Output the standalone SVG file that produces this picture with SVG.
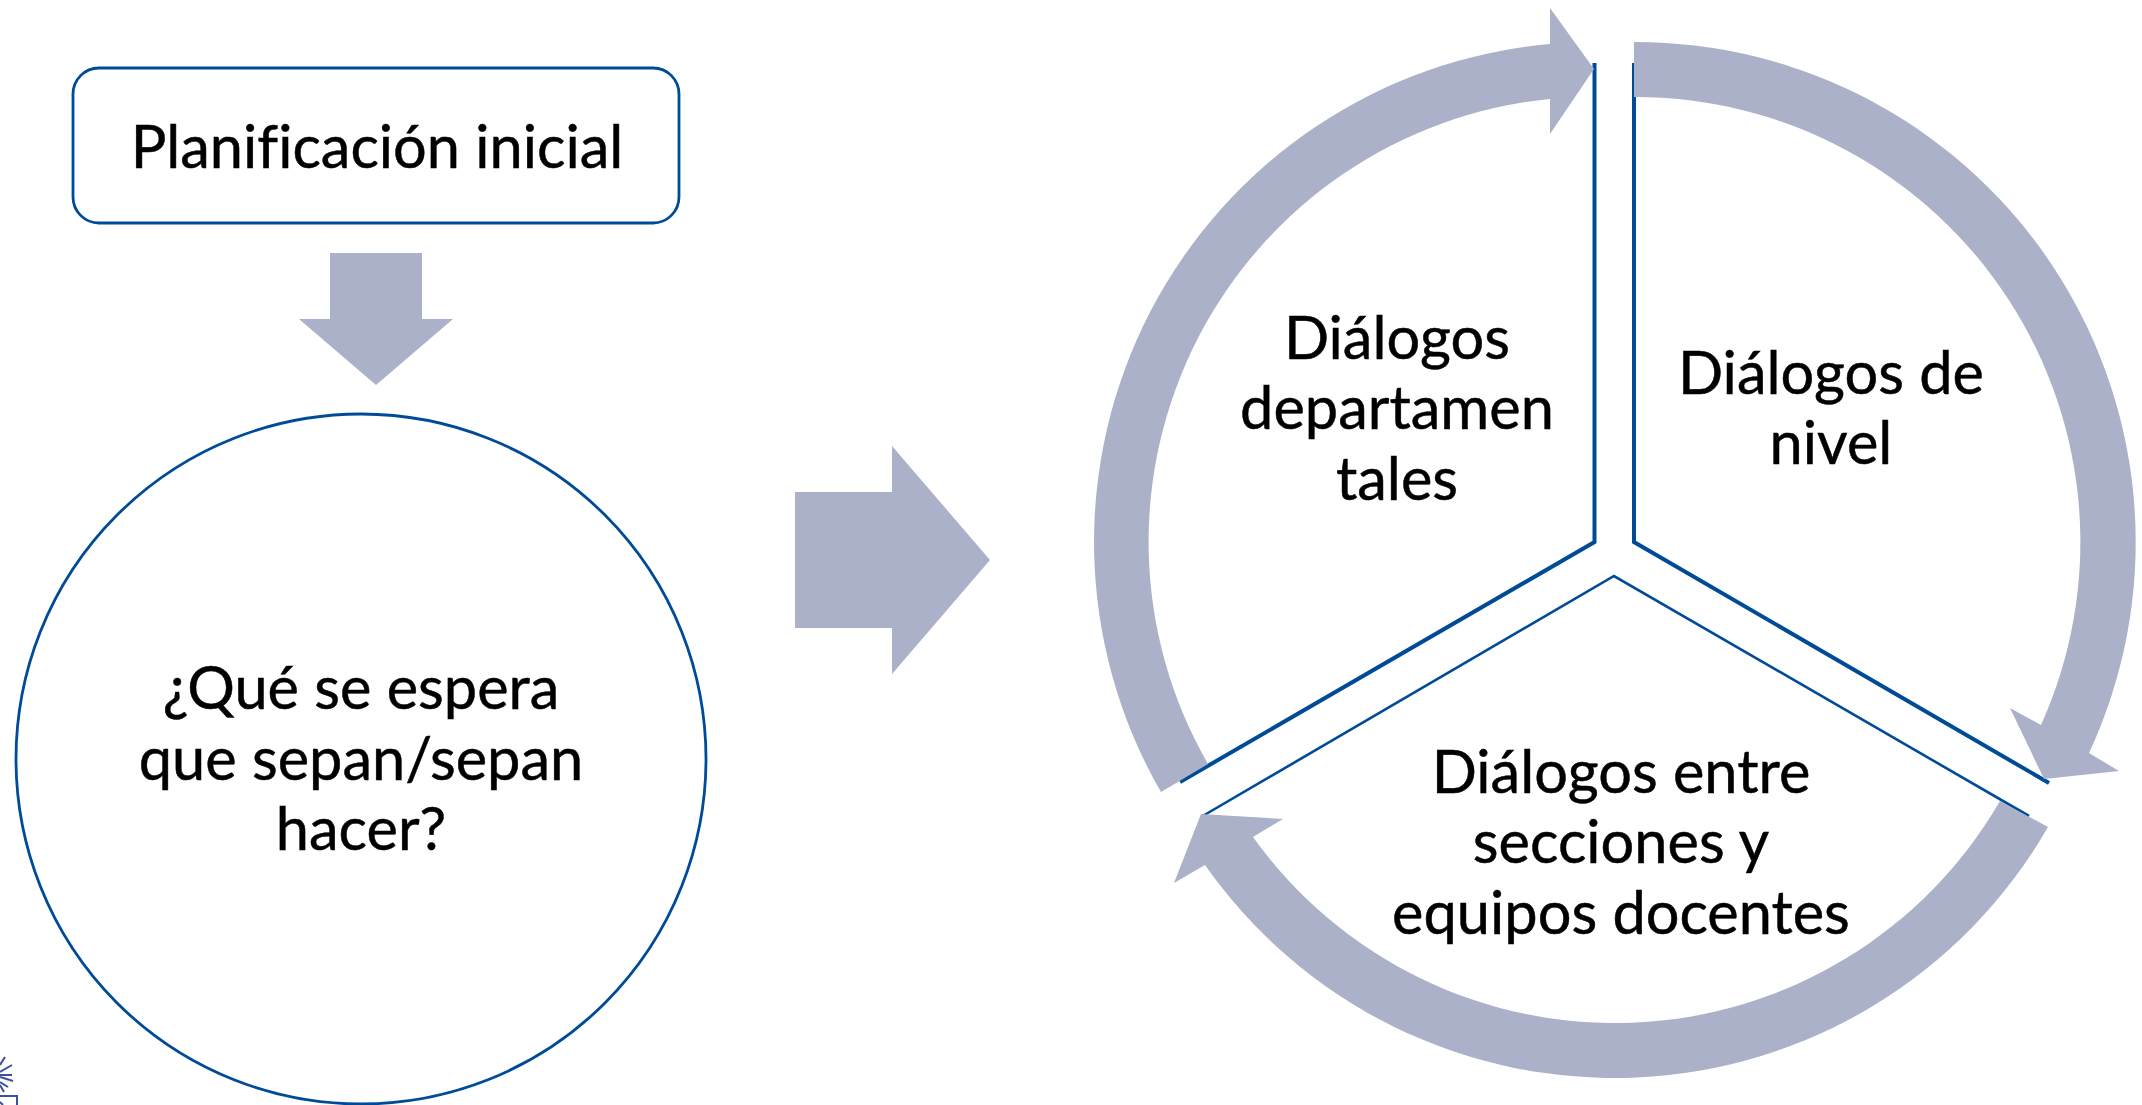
<svg xmlns="http://www.w3.org/2000/svg" width="2142" height="1105" viewBox="0 0 2142 1105">
<style>
.a{fill:#abb1c9}
.l{fill:none;stroke:#004b98;stroke-linejoin:miter}
.t{font-family:"Lato","Carlito","Liberation Sans",sans-serif;font-size:59.500px;fill:#000;stroke:#000;stroke-width:0.500px;text-anchor:middle;font-variant-ligatures:none}
.logo{fill:none;stroke:#3c4fa0;stroke-width:2}
</style>
<rect width="2142" height="1105" fill="#fff"/>
<g id="logo">
<path class="logo" d="M0 1065L5 1057M0 1072L12 1065M0 1075L12 1075M0 1077L13 1081M0 1082L8 1087M0 1085L4 1092M0 1096H17V1105M0 1102L3 1105"/>
</g>
<g id="node-planificacion">
<rect x="73" y="68" width="606" height="155" rx="26" ry="26" fill="#fff" class="l" stroke-width="2.800"/>
<text class="t" x="377" y="168">Planificación inicial</text>
</g>
<g id="node-pregunta">
<circle cx="361" cy="759" r="345" class="l" stroke-width="2.800" fill="#fff"/>
<text class="t" x="361" y="709">¿Qué se espera</text>
<text class="t" x="361" y="780">que sepan/sepan</text>
<text class="t" x="361" y="850">hacer?</text>
</g>
<g id="node-departamentales">
<path class="l" stroke-width="4" d="M1594.500 63V542L1180 782"/>
<text class="t" x="1397" y="359">Diálogos</text>
<text class="t" x="1397" y="429">departamen</text>
<text class="t" x="1397" y="500">tales</text>
</g>
<g id="node-nivel">
<path class="l" stroke-width="4" d="M1634 63V542L2049 783"/>
<text class="t" x="1831" y="394">Diálogos de</text>
<text class="t" x="1831" y="464">nivel</text>
</g>
<g id="node-secciones">
<path class="l" stroke-width="2.600" d="M1201 817L1614 576L2029 816"/>
<text class="t" x="1621" y="793">Diálogos entre</text>
<text class="t" x="1621" y="863">secciones y</text>
<text class="t" x="1621" y="934">equipos docentes</text>
</g>
<g id="connectors">
<path class="a" d="M330 253H422V319H453L376 385L299 319H330Z"/>
<path class="a" d="M795 492H892V446L990 560L892 674V628H795Z"/>
<path class="a" d="M1161 792A500 500 0 0 1 1550 44V8L1594 69L1550 134V99A445 445 0 0 0 1208 764Z"/>
<path class="a" d="M1634 42A500 500 0 0 1 2089 753L2119 771L2044 779L2010 708L2041 725A445 445 0 0 0 1634 97Z"/>
<path class="a" d="M2048 827A500 500 0 0 1 1205 865L1174 883L1201 814L1283 819L1253 837A445 445 0 0 0 2000 801Z"/>
</g>
</svg>
